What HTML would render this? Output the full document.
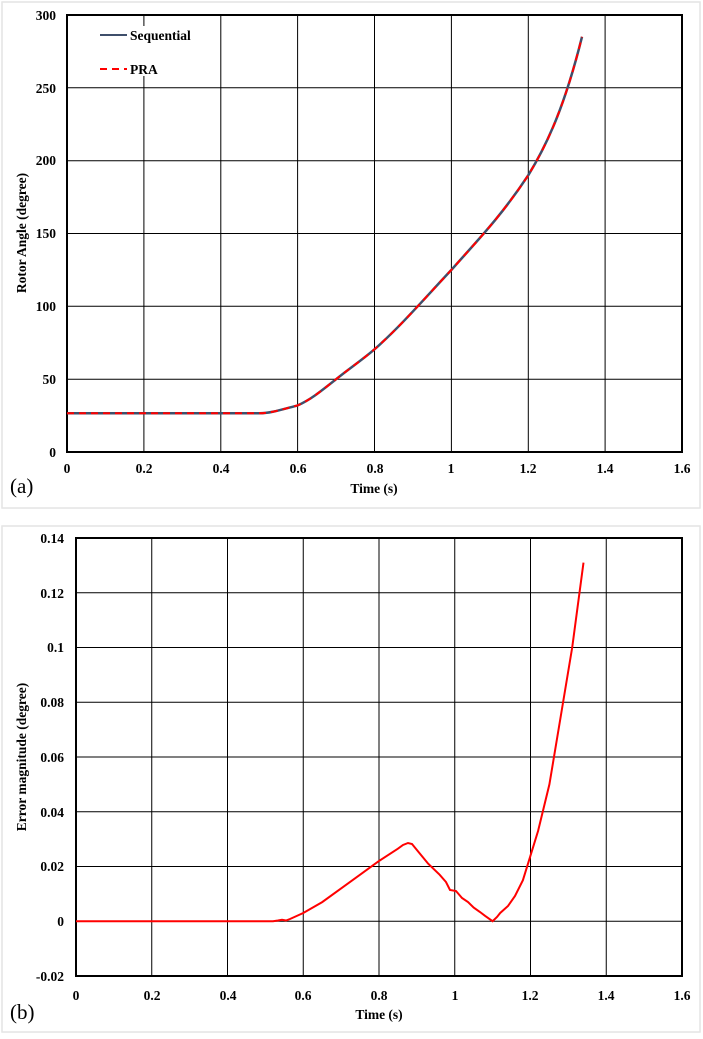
<!DOCTYPE html>
<html><head><meta charset="utf-8"><style>
body{margin:0;background:#fff;}
svg text{font-family:"Liberation Serif",serif;font-weight:bold;font-size:13.5px;fill:#000;}
</style></head><body>
<svg width="703" height="1034" viewBox="0 0 703 1034" xmlns="http://www.w3.org/2000/svg">
<rect x="2" y="2" width="698" height="506" fill="#fff" stroke="#e4e4e4" stroke-width="1.5"/>
<rect x="2" y="526" width="698" height="506" fill="#fff" stroke="#e4e4e4" stroke-width="1.5"/>
<!-- Chart A -->
<g stroke="#000" stroke-width="1">
<line x1="143.9" y1="15" x2="143.9" y2="452"/><line x1="220.8" y1="15" x2="220.8" y2="452"/>
<line x1="297.6" y1="15" x2="297.6" y2="452"/><line x1="374.5" y1="15" x2="374.5" y2="452"/>
<line x1="451.4" y1="15" x2="451.4" y2="452"/><line x1="528.3" y1="15" x2="528.3" y2="452"/>
<line x1="605.1" y1="15" x2="605.1" y2="452"/>
<line x1="67" y1="87.8" x2="682" y2="87.8"/><line x1="67" y1="160.7" x2="682" y2="160.7"/>
<line x1="67" y1="233.5" x2="682" y2="233.5"/><line x1="67" y1="306.3" x2="682" y2="306.3"/>
<line x1="67" y1="379.2" x2="682" y2="379.2"/>
</g>
<rect x="67" y="15" width="615" height="437" fill="none" stroke="#000" stroke-width="2"/>
<rect x="95" y="26" width="105" height="50" fill="#fff"/>
<g text-anchor="end">
<text x="56" y="20">300</text><text x="56" y="93">250</text><text x="56" y="165">200</text>
<text x="56" y="238">150</text><text x="56" y="311">100</text><text x="56" y="384">50</text><text x="56" y="457">0</text>
</g>
<g text-anchor="middle">
<text x="67" y="473">0</text><text x="144" y="473">0.2</text><text x="221" y="473">0.4</text>
<text x="298" y="473">0.6</text><text x="375" y="473">0.8</text><text x="451" y="473">1</text>
<text x="528" y="473">1.2</text><text x="605" y="473">1.4</text><text x="682" y="473">1.6</text>
<text x="374" y="493">Time (s)</text>
<text transform="translate(26,233) rotate(-90)">Rotor Angle (degree)</text>
</g>
<text x="10" y="493" style="font-weight:normal;font-size:21px">(a)</text>
<line x1="100" y1="35" x2="127" y2="35" stroke="#3f4f6b" stroke-width="2"/>
<text x="130" y="40">Sequential</text>
<line x1="100" y1="69" x2="127" y2="69" stroke="#f00" stroke-width="2" stroke-dasharray="7,5"/>
<text x="130" y="74">PRA</text>
<path id="ra" fill="none" stroke="#3f4f6b" stroke-width="2.5" d="M67,413.3 L259.2,413.3 C270,413.3 280,410 297.6,405.4 C310,400 320,392 336.1,379.2 C350,368 362,360 374.5,349.3 C400,327 425,298 451.4,269.9 C475,243 500,218 528.3,175.2 C548,143 565,105 582,36.8"/>
<path fill="none" stroke="#f00" stroke-width="2" stroke-dasharray="7,5" d="M67,413.3 L259.2,413.3 C270,413.3 280,410 297.6,405.4 C310,400 320,392 336.1,379.2 C350,368 362,360 374.5,349.3 C400,327 425,298 451.4,269.9 C475,243 500,218 528.3,175.2 C548,143 565,105 582,36.8"/>
<!-- Chart B -->
<g stroke="#000" stroke-width="1">
<line x1="151.75" y1="538" x2="151.75" y2="976"/><line x1="227.5" y1="538" x2="227.5" y2="976"/>
<line x1="303.25" y1="538" x2="303.25" y2="976"/><line x1="379" y1="538" x2="379" y2="976"/>
<line x1="454.75" y1="538" x2="454.75" y2="976"/><line x1="530.5" y1="538" x2="530.5" y2="976"/>
<line x1="606.25" y1="538" x2="606.25" y2="976"/>
<line x1="76" y1="592.75" x2="682" y2="592.75"/><line x1="76" y1="647.5" x2="682" y2="647.5"/>
<line x1="76" y1="702.25" x2="682" y2="702.25"/><line x1="76" y1="757" x2="682" y2="757"/>
<line x1="76" y1="811.75" x2="682" y2="811.75"/><line x1="76" y1="866.5" x2="682" y2="866.5"/>
<line x1="76" y1="921.25" x2="682" y2="921.25"/>
</g>
<rect x="76" y="538" width="606" height="438" fill="none" stroke="#000" stroke-width="2"/>
<g text-anchor="end">
<text x="64" y="543">0.14</text><text x="64" y="598">0.12</text><text x="64" y="652">0.1</text>
<text x="64" y="707">0.08</text><text x="64" y="762">0.06</text><text x="64" y="817">0.04</text>
<text x="64" y="871">0.02</text><text x="64" y="926">0</text><text x="64" y="981">-0.02</text>
</g>
<g text-anchor="middle">
<text x="76" y="1000">0</text><text x="152" y="1000">0.2</text><text x="228" y="1000">0.4</text>
<text x="303" y="1000">0.6</text><text x="379" y="1000">0.8</text><text x="455" y="1000">1</text>
<text x="530" y="1000">1.2</text><text x="606" y="1000">1.4</text><text x="682" y="1000">1.6</text>
<text x="379" y="1019">Time (s)</text>
<text transform="translate(26,757) rotate(-90)">Error magnitude (degree)</text>
</g>
<text x="10" y="1019" style="font-weight:normal;font-size:21px">(b)</text>
<polyline fill="none" stroke="#f00" stroke-width="2" points="76,921.25 273,921.25 278,920.5 282,919.8 286,920.5 290,919 303.25,913 322.2,902.1 341.1,888.4 360.1,874.7 379,861 397.9,848.7 403,845 408,843 412,844 416.9,850 428.2,863.7 439.6,874.7 446,882 450,890 456,891 462,898 468,902 473.7,907.6 480,912 485,915.8 492.6,921.25 497,917 500.2,913 508,906 515,896 522.9,880.2 530.5,855.6 538.1,830.9 549.4,784.4 560.8,716 572.2,647.5 583.5,562.6"/>
</svg>
</body></html>
